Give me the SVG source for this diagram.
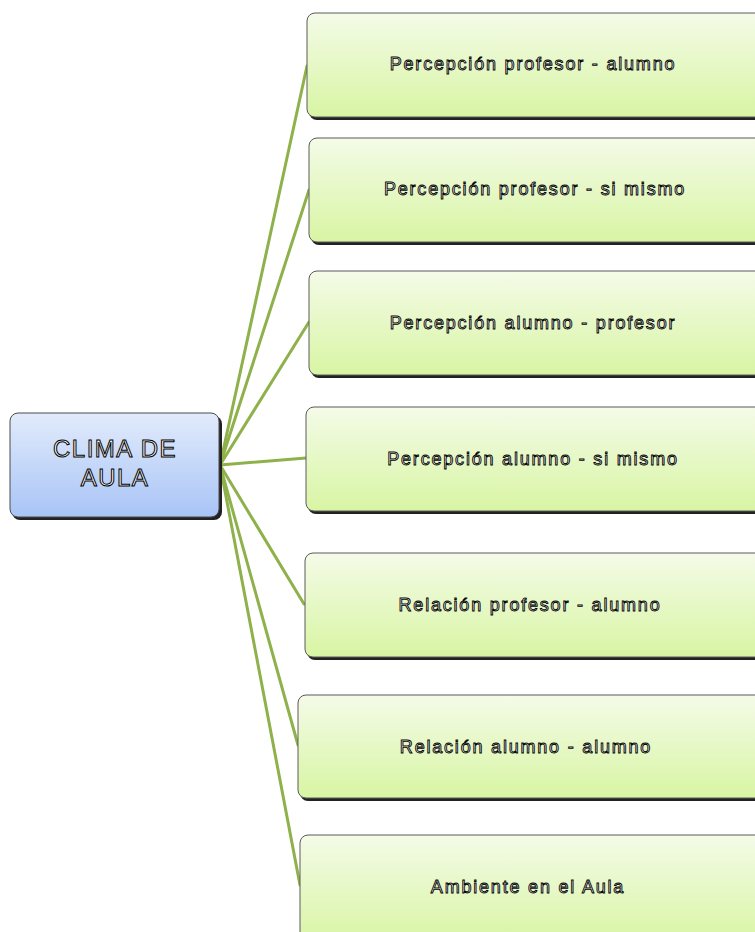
<svg xmlns="http://www.w3.org/2000/svg" width="755" height="932" viewBox="0 0 755 932">
<defs>
<linearGradient id="gGreen" x1="0" y1="0" x2="0" y2="1">
<stop offset="0" stop-color="#f4fbe8"/>
<stop offset="1" stop-color="#d8f5a3"/>
</linearGradient>
<linearGradient id="gBlue" x1="0" y1="0" x2="0" y2="1">
<stop offset="0" stop-color="#e2ebfc"/>
<stop offset="1" stop-color="#a8c4f6"/>
</linearGradient>
<style>
.sh{fill:#222;}
.gb{fill:url(#gGreen);stroke:#5a5a5a;stroke-width:1;}
.bb{fill:url(#gBlue);stroke:#4a4a4a;stroke-width:1;}
.t{font-family:"Liberation Sans",Arial,sans-serif;font-size:18px;letter-spacing:1.8px;fill:#fff;stroke:#000;stroke-width:0.9px;text-anchor:middle;}
.tc{font-family:"Liberation Sans",Arial,sans-serif;font-size:24px;letter-spacing:1.5px;fill:#fff;stroke:#000;stroke-width:1px;text-anchor:middle;}
.c{stroke:#8fb14b;stroke-width:3;fill:none;stroke-linecap:round;}
</style>
</defs>
<rect width="755" height="932" fill="#fff"/>
<g id="connectors">
<line class="c" x1="220" y1="465" x2="307" y2="66"/>
<line class="c" x1="220" y1="465" x2="309" y2="190"/>
<line class="c" x1="220" y1="465" x2="309" y2="322"/>
<line class="c" x1="220" y1="465" x2="306" y2="458"/>
<line class="c" x1="220" y1="465" x2="304" y2="604"/>
<line class="c" x1="220" y1="465" x2="298" y2="745"/>
<line class="c" x1="220" y1="465" x2="300" y2="885"/>
</g>
<g id="center">
<rect class="sh" x="12" y="416" width="210" height="104" rx="8"/>
<rect class="bb" x="10" y="413" width="209" height="104" rx="8"/>
<text class="tc" x="115" y="457">CLIMA DE</text>
<text class="tc" x="115" y="486">AULA</text>
</g>
<g id="n1">
<rect class="sh" x="309" y="16" width="470" height="104" rx="8"/>
<rect class="gb" x="307" y="13" width="470" height="104" rx="8"/>
<text class="t" x="533" y="70">Percepción profesor -  alumno</text>
</g>
<g id="n2">
<rect class="sh" x="311" y="141" width="470" height="104" rx="8"/>
<rect class="gb" x="309" y="138" width="470" height="104" rx="8"/>
<text class="t" x="535" y="195">Percepción profesor -  si mismo</text>
</g>
<g id="n3">
<rect class="sh" x="311" y="274" width="470" height="104" rx="8"/>
<rect class="gb" x="309" y="271" width="470" height="104" rx="8"/>
<text class="t" x="533" y="329">Percepción alumno - profesor</text>
</g>
<g id="n4">
<rect class="sh" x="308" y="410" width="470" height="104" rx="8"/>
<rect class="gb" x="306" y="407" width="470" height="104" rx="8"/>
<text class="t" x="533" y="465">Percepción alumno - si mismo</text>
</g>
<g id="n5">
<rect class="sh" x="307" y="556" width="470" height="104" rx="8"/>
<rect class="gb" x="305" y="553" width="470" height="104" rx="8"/>
<text class="t" x="530" y="611">Relación profesor - alumno</text>
</g>
<g id="n6">
<rect class="sh" x="300" y="698" width="470" height="103" rx="8"/>
<rect class="gb" x="298" y="695" width="470" height="103" rx="8"/>
<text class="t" x="526" y="753">Relación alumno - alumno</text>
</g>
<g id="n7">
<rect class="sh" x="302" y="838" width="470" height="110" rx="8"/>
<rect class="gb" x="300" y="835" width="470" height="110" rx="8"/>
<text class="t" x="528" y="893">Ambiente en el Aula</text>
</g>
</svg>
